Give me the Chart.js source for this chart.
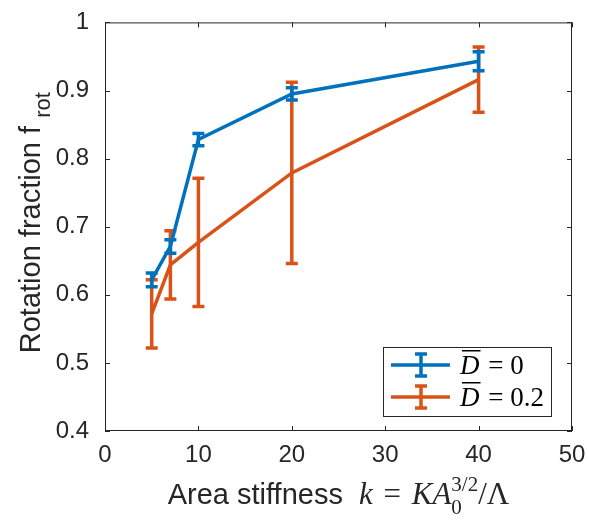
<!DOCTYPE html>
<html>
<head>
<meta charset="utf-8">
<script src="https://cdn.jsdelivr.net/npm/chart.js@4.4.1/dist/chart.umd.min.js"></script>
<style>
  html, body { margin: 0; padding: 0; background: #fff; }
  #wrap { width: 589px; height: 522px; }
</style>
</head>
<body>
<div id="wrap"><canvas id="chart" width="589" height="522"></canvas></div>
<script>
// data
const stiffness = [5, 7, 10, 20, 40];
const meanD0 = [0.622, 0.671, 0.828, 0.895, 0.943];
const errD0 = [0.010, 0.010, 0.009, 0.009, 0.014];
const meanD02 = [0.572, 0.644, 0.677, 0.779, 0.916];
const errD02 = [0.050, 0.050, 0.094, 0.133, 0.048];
const seriesLabels = ['0', '0.2'];
const xTicks = [0, 10, 20, 30, 40, 50];
const yTicks = [0.4, 0.5, 0.6, 0.7, 0.8, 0.9, 1];

const blue = '#0072BD';
const orange = '#D95319';
const sans = '"Liberation Sans", Arial, Helvetica, sans-serif';
const serif = '"Liberation Serif", "Times New Roman", serif';

function points(xs, ys) {
  return xs.map((x, i) => ({ x: x, y: ys[i] }));
}

// error bars, drawn right after each line so the later series sits on top
const errorBars = {
  id: 'errorBars',
  afterDatasetDraw(chart, args) {
    const ds = chart.data.datasets[args.index];
    const xs = chart.scales.x, ys = chart.scales.y;
    const ctx = chart.ctx;
    ctx.save();
    ctx.strokeStyle = ds.borderColor;
    ctx.lineWidth = 3.5;
    ctx.lineCap = 'butt';
    ds.data.forEach((p, i) => {
      const e = ds.errors[i];
      const px = xs.getPixelForValue(p.x);
      const top = ys.getPixelForValue(p.y + e);
      const bot = ys.getPixelForValue(p.y - e);
      ctx.beginPath();
      ctx.moveTo(px, top); ctx.lineTo(px, bot);
      ctx.moveTo(px - 6, top); ctx.lineTo(px + 6, top);
      ctx.moveTo(px - 6, bot); ctx.lineTo(px + 6, bot);
      ctx.stroke();
    });
    ctx.restore();
  }
};

// MATLAB-style box, inward ticks, axis titles and legend
const decorations = {
  id: 'decorations',
  afterDraw(chart) {
    const ctx = chart.ctx;
    const a = chart.chartArea;
    const xs = chart.scales.x, ys = chart.scales.y;
    ctx.save();
    ctx.strokeStyle = '#262626';
    ctx.lineWidth = 1;
    ctx.strokeRect(a.left + 0.5, a.top + 0.5, a.right - a.left - 1, a.bottom - a.top - 1);
    ctx.beginPath();
    xTicks.forEach(v => {
      const px = Math.round(xs.getPixelForValue(v)) + 0.5;
      ctx.moveTo(px, a.bottom); ctx.lineTo(px, a.bottom - 5);
      ctx.moveTo(px, a.top); ctx.lineTo(px, a.top + 5);
    });
    yTicks.forEach(v => {
      const py = Math.round(ys.getPixelForValue(v)) + 0.5;
      ctx.moveTo(a.left, py); ctx.lineTo(a.left + 5, py);
      ctx.moveTo(a.right, py); ctx.lineTo(a.right - 5, py);
    });
    ctx.stroke();

    // y title with subscript
    ctx.fillStyle = '#262626';
    ctx.save();
    ctx.translate(40, 0);
    ctx.rotate(-Math.PI / 2);
    ctx.font = '29px ' + sans;
    const main = 'Rotation fraction f ';
    const w1 = ctx.measureText(main).width;
    ctx.font = '22px ' + sans;
    const w2 = ctx.measureText('rot').width;
    const start = -((a.top + a.bottom) / 2 - 4) - (w1 + w2) / 2;
    ctx.font = '29px ' + sans;
    ctx.textBaseline = 'alphabetic';
    ctx.fillText(main, start, 0);
    ctx.font = '22px ' + sans;
    ctx.fillText('rot', start + w1, 10);
    ctx.restore();

    // x title: text plus math
    ctx.textBaseline = 'alphabetic';
    const base = 504;
    const parts = [
      { t: 'Area stiffness  ', f: '29px ' + sans, dy: 0 },
      { t: 'k', f: 'italic 31px ' + serif, dy: 0 },
      { t: ' = ', f: '31px ' + serif, dy: 0, pad: 6 },
      { t: 'KA', f: 'italic 31px ' + serif, dy: 0 },
      { t: '3/2', f: '21px ' + serif, dy: -13, sub: '0' },
      { t: '/Λ', f: '31px ' + serif, dy: 0 }
    ];
    let total = 0;
    parts.forEach(p => {
      ctx.font = p.f;
      p.w = ctx.measureText(p.t).width + (p.pad || 0);
      total += p.w;
    });
    let x = (a.left + a.right) / 2 - total / 2;
    parts.forEach(p => {
      ctx.font = p.f;
      ctx.fillText(p.t, x + (p.pad || 0) / 2, base + p.dy);
      if (p.sub) ctx.fillText(p.sub, x, base + 10);
      x += p.w;
    });

    // legend
    const lx = 383, ly = 347, lw = 168, lh = 69;
    ctx.fillStyle = '#fff';
    ctx.fillRect(lx, ly, lw, lh);
    ctx.strokeStyle = '#262626';
    ctx.lineWidth = 1;
    ctx.strokeRect(lx + 0.5, ly + 0.5, lw, lh);
    chart.data.datasets.forEach((ds, i) => {
      const cy = ly + 18 + i * 32;
      ctx.strokeStyle = ds.borderColor;
      ctx.lineWidth = 3.5;
      ctx.beginPath();
      ctx.moveTo(391, cy); ctx.lineTo(450, cy);
      ctx.moveTo(421, cy - 11); ctx.lineTo(421, cy + 11);
      ctx.moveTo(415, cy - 11); ctx.lineTo(427, cy - 11);
      ctx.moveTo(415, cy + 11); ctx.lineTo(427, cy + 11);
      ctx.stroke();
      ctx.fillStyle = '#000';
      ctx.font = 'italic 27px ' + serif;
      const tx = 460, tb = cy + 9;
      ctx.fillText('D', tx, tb);
      const dw = ctx.measureText('D').width;
      ctx.fillRect(tx + 2, tb - 24, dw - 1, 1.5);
      ctx.font = '27px ' + serif;
      ctx.fillText(' = ' + ds.legendText, tx + dw + 2, tb);
    });
    ctx.restore();
  }
};

new Chart(document.getElementById('chart'), {
  type: 'line',
  data: {
    datasets: [
      { data: points(stiffness, meanD0), errors: errD0, legendText: seriesLabels[0],
        borderColor: blue, borderWidth: 3.5, pointRadius: 0, fill: false, tension: 0 },
      { data: points(stiffness, meanD02), errors: errD02, legendText: seriesLabels[1],
        borderColor: orange, borderWidth: 3.5, pointRadius: 0, fill: false, tension: 0 }
    ]
  },
  options: {
    responsive: false,
    animation: false,
    layout: { padding: { left: 0, right: 17, top: 15, bottom: 0 } },
    plugins: { legend: { display: false }, tooltip: { enabled: false } },
    scales: {
      x: {
        type: 'linear', min: 0, max: 50,
        afterFit(s) { s.height = 91; },
        afterBuildTicks(s) { s.ticks = xTicks.map(v => ({ value: v })); },
        grid: { display: false },
        border: { display: false },
        ticks: { color: '#262626', font: { family: sans, size: 24 }, padding: 2, maxRotation: 0 }
      },
      y: {
        type: 'linear', min: 0.4, max: 1,
        afterFit(s) { s.width = 105; },
        afterBuildTicks(s) { s.ticks = yTicks.map(v => ({ value: v })); },
        grid: { display: false },
        border: { display: false },
        ticks: { color: '#262626', font: { family: sans, size: 24 }, padding: 8,
          callback: v => String(v) }
      }
    }
  },
  plugins: [errorBars, decorations]
});
</script>
</body>
</html>
